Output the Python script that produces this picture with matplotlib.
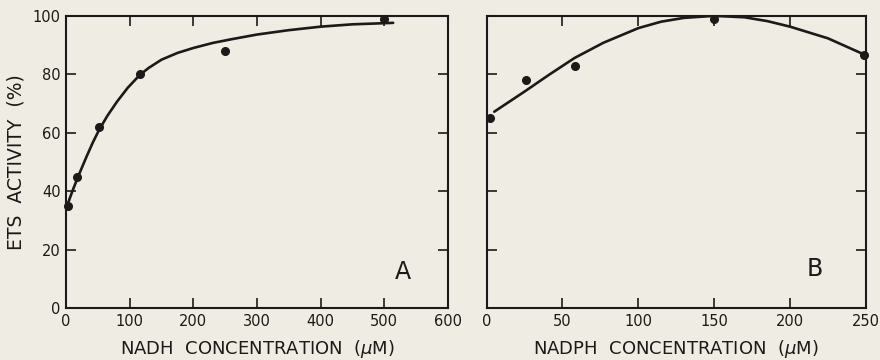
import numpy as np
import matplotlib
matplotlib.use("Agg")
from matplotlib import pyplot as plt

# panel A - NADH
nadh_x = [3, 18, 52, 117, 250, 500]
nadh_y = [35, 45, 62, 80, 88, 99]
nadh_fit_x = [3, 10, 19, 32, 42, 52, 65, 80, 97, 116, 130, 150, 175, 200, 230, 260, 300, 350, 400, 450, 514]
nadh_fit_y = [35.8, 40.0, 45.0, 51.7, 56.6, 61.0, 65.8, 70.6, 75.4, 79.8, 82.2, 85.0, 87.3, 89.0,
              90.7, 92.0, 93.6, 95.1, 96.3, 97.1, 97.6]

# panel B - NADPH
nadph_x = [2, 26, 58, 150, 249]
nadph_y = [65, 78, 83, 99, 86.5]
nadph_fit_x = [5, 25, 41, 58, 77, 100, 115, 130, 150, 170, 185, 200, 225, 250]
nadph_fit_y = [67.2, 74.1, 79.8, 85.6, 90.8, 95.8, 98.0, 99.3, 100, 99.5, 98.2, 96.3, 92.3, 86.5]

bg = "#efece4"
ink = "#1c1a18"

plt.rcParams['font.family'] = ['DejaVu Sans']
fig = plt.figure(figsize=(8.8, 3.6), dpi=100, facecolor=bg)
axA = fig.add_axes([0.075, 0.144, 0.434, 0.812])
axB = fig.add_axes([0.553, 0.144, 0.431, 0.812])


def style(ax):
    ax.set_facecolor(bg)
    for s in ax.spines.values():
        s.set_linewidth(1.5)
        s.set_color(ink)
    ax.tick_params(direction='in', length=7.5, width=1.2, colors=ink,
                   top=True, right=True, labelsize=10.5, pad=4)
    ax.set_ylim(0, 100)
    ax.set_yticks([0, 20, 40, 60, 80, 100])


style(axA)
axA.plot(nadh_fit_x, nadh_fit_y, color=ink, lw=1.9, solid_capstyle='round',
         solid_joinstyle='round')
axA.plot(nadh_x, nadh_y, 'o', color=ink, ms=5.5, clip_on=False)
axA.set_xlim(0, 600)
axA.set_xticks([0, 100, 200, 300, 400, 500, 600])
axA.set_xlabel("NADH  CONCENTRATION  ($\\mu$M)", fontsize=13, color=ink, labelpad=7)
axA.set_ylabel("ETS  ACTIVITY  (%)", fontsize=13.5, color=ink, labelpad=5)
axA.text(0.882, 0.123, "A", transform=axA.transAxes, fontsize=17, color=ink,
         ha='center', va='center')

style(axB)
axB.plot(nadph_fit_x, nadph_fit_y, color=ink, lw=1.9, solid_capstyle='round',
         solid_joinstyle='round')
axB.plot(nadph_x, nadph_y, 'o', color=ink, ms=5.5, clip_on=False)
axB.set_xlim(0, 250)
axB.set_xticks([0, 50, 100, 150, 200, 250])
axB.tick_params(labelleft=False)
axB.set_xlabel("NADPH  CONCENTRATION  ($\\mu$M)", fontsize=13, color=ink, labelpad=7)
axB.text(0.866, 0.134, "B", transform=axB.transAxes, fontsize=17, color=ink,
         ha='center', va='center')

plt.savefig("out.png", dpi=100, facecolor=bg)
